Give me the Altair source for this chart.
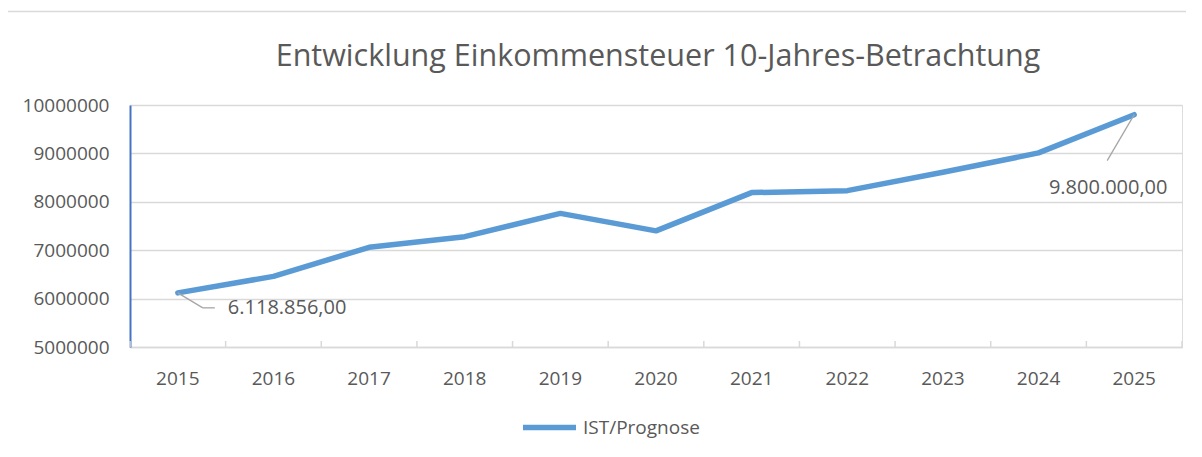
import altair as alt
import pandas as pd

years = ["2015", "2016", "2017", "2018", "2019", "2020", "2021", "2022", "2023", "2024", "2025"]
values = [6118856, 6460000, 7060000, 7280000, 7760000, 7400000, 8190000, 8230000, 8610000, 9010000, 9800000]
series_name = "IST/Prognose"
y_ticks = [5000000, 6000000, 7000000, 8000000, 9000000, 10000000]
title_text = "Entwicklung Einkommensteuer 10-Jahres-Betrachtung"

ann_years = ["2015", "2025"]
ann_values = [6118856, 9800000]
ann_labels = ["6.118.856,00", "9.800.000,00"]

FONT = "Open Sans"
TXT = "#595959"
GRID = "#D9D9D9"
LINE = "#5B9BD5"
W, H = 1052, 242
BAND = W / len(years)

df = pd.DataFrame({"year": years, "value": values, "series": [series_name] * len(years)})
ann = pd.DataFrame({"year": ann_years, "value": ann_values, "label": ann_labels})
ticks_df = pd.DataFrame({"year": years})
title_df = pd.DataFrame({"t": [title_text]})

xscale = alt.Scale(domain=years, paddingInner=0, paddingOuter=0)
yscale = alt.Scale(domain=[5000000, 10000000], nice=False, zero=False)

x_axis = alt.Axis(title=None, labelFont=FONT, labelFontSize=19, labelColor=TXT,
                  labelPadding=22, ticks=False, domainColor=GRID, domainWidth=1.5,
                  labelAngle=0, grid=False)
y_axis = alt.Axis(title=None, values=y_ticks, format="d", labelFont=FONT, labelFontSize=19,
                  labelColor=TXT, labelPadding=21, ticks=False, domainColor="#4472C4",
                  domainWidth=2, grid=True, gridColor=GRID, gridWidth=1.4)

line = alt.Chart(df).mark_line(strokeWidth=5.5, strokeCap="round", strokeJoin="round").encode(
    x=alt.X("year:N", scale=xscale, axis=x_axis, sort=years),
    y=alt.Y("value:Q", scale=yscale, axis=y_axis),
    color=alt.Color("series:N", scale=alt.Scale(domain=[series_name], range=[LINE]),
                    legend=alt.Legend(title=None, orient="none", legendX=390, legendY=293,
                                      symbolType="stroke", symbolSize=2809, symbolStrokeWidth=5.5,
                                      labelFont=FONT, labelFontSize=19, labelColor=TXT,
                                      labelOffset=4, padding=0)),
)

tick_rules = alt.Chart(ticks_df).mark_rule(color=GRID, strokeWidth=1.5, xOffset=-BAND / 2).encode(
    x=alt.X("year:N", scale=xscale, sort=years, axis=x_axis),
    y=alt.value(H - 6), y2=alt.value(H),
)
end_tick = alt.Chart(ticks_df.head(1)).mark_rule(color=GRID, strokeWidth=1.5).encode(
    x=alt.value(W), y=alt.value(H - 6), y2=alt.value(H),
)

a1 = ann[ann["year"] == "2015"]
a2 = ann[ann["year"] == "2025"]

enc = dict(x=alt.X("year:N", scale=xscale, sort=years), x2="year:N",
           y=alt.Y("value:Q", scale=yscale), y2="value:Q")

lead1a = alt.Chart(a1).mark_rule(color="#A6A6A6", strokeWidth=1.3, x2Offset=25, y2Offset=15).encode(**enc)
lead1b = alt.Chart(a1).mark_rule(color="#A6A6A6", strokeWidth=1.3, xOffset=25, yOffset=15,
                                 x2Offset=37, y2Offset=15).encode(**enc)
lead2 = alt.Chart(a2).mark_rule(color="#A6A6A6", strokeWidth=1.3, x2Offset=-27, y2Offset=46).encode(**enc)

text1 = alt.Chart(a1).mark_text(font=FONT, fontSize=20, color=TXT, align="left",
                                baseline="middle", dx=50, dy=15).encode(
    x=alt.X("year:N", scale=xscale, sort=years), y=alt.Y("value:Q", scale=yscale), text="label:N")
text2 = alt.Chart(a2).mark_text(font=FONT, fontSize=20, color=TXT, align="center",
                                baseline="middle", dx=-26, dy=73).encode(
    x=alt.X("year:N", scale=xscale, sort=years), y=alt.Y("value:Q", scale=yscale), text="label:N")

title = alt.Chart(title_df).mark_text(font=FONT, fontSize=30.5, color=TXT, align="center",
                                      baseline="alphabetic").encode(
    x=alt.value(W / 2 + 2), y=alt.value(-39), text="t:N")

border = alt.Chart(ticks_df.head(1)).mark_rule(color=GRID, strokeWidth=1.5).encode(
    x=alt.value(-127), x2=alt.value(1060), y=alt.value(-93.5))

chart = alt.layer(border, tick_rules, end_tick, line, lead1a, lead1b, lead2, text1, text2, title).properties(
    width=W, height=H,
    autosize=alt.AutoSizeParams(type="none"),
    padding={"left": 122, "top": 97, "right": 4, "bottom": 100},
).configure_view(stroke=None).configure(background="white")

chart.save("out.html", embed_options={"renderer": "svg", "actions": False})
